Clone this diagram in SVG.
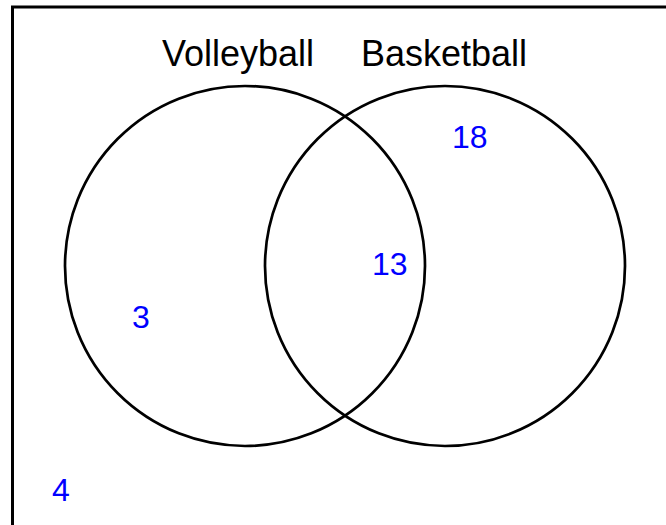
<svg xmlns="http://www.w3.org/2000/svg" width="666" height="525" viewBox="0 0 666 525">
<style>
.set{fill:none;stroke:#000;stroke-width:2.7}
.lbl{font-family:"Liberation Sans",Arial,sans-serif;font-size:36px;fill:#000}
.num{font-family:"Liberation Sans",Arial,sans-serif;font-size:32px;fill:#0000ff}
</style>
<rect x="0" y="0" width="666" height="525" fill="#fff"/>
<rect id="frame" x="12.5" y="7" width="700" height="600" fill="none" stroke="#000" stroke-width="3"/>
<g id="volleyball">
<circle class="set" cx="245" cy="266" r="180"/>
<text class="lbl" x="162" y="66">Volleyball</text>
</g>
<g id="basketball">
<circle class="set" cx="445" cy="266" r="180"/>
<text class="lbl" x="361" y="66">Basketball</text>
</g>
<g id="connectors"></g>
<g id="values">
<text class="num" x="452" y="148">18</text>
<text class="num" x="372" y="275">13</text>
<text class="num" x="132" y="328">3</text>
<text class="num" x="52" y="501">4</text>
</g>
</svg>
